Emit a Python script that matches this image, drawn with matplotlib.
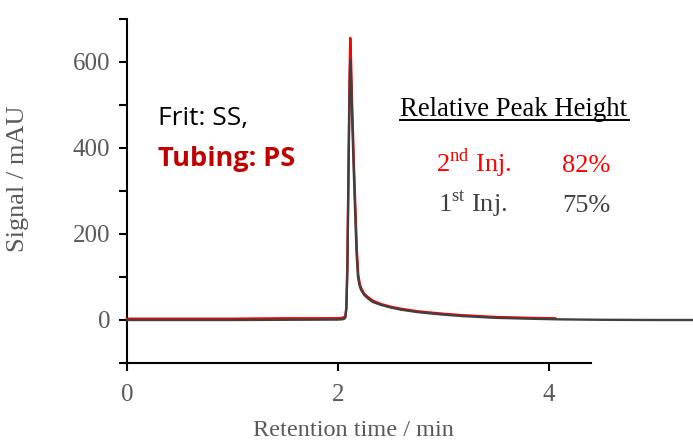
import numpy as np
import matplotlib
matplotlib.use("Agg")
import matplotlib.pyplot as plt
from matplotlib.lines import Line2D

plt.rcParams['mathtext.fontset'] = 'custom'
plt.rcParams['mathtext.rm'] = 'Liberation Serif'

# 1st injection (dark grey trace)
t_first = [0, 0.5, 1.0, 1.5, 2.0, 2.04, 2.06, 2.07, 2.08, 2.09, 2.10, 2.11, 2.117,
           2.125, 2.135, 2.15, 2.16, 2.177, 2.19, 2.205, 2.22, 2.25, 2.286, 2.33,
           2.41, 2.5, 2.6, 2.75, 2.87, 3.0, 3.19, 3.5, 3.82, 4.1, 4.5, 5.0, 5.37]
sig_first = [0, 0, 0, 0.5, 1, 1.5, 3, 5, 25, 120, 330, 520, 605,
             560, 470, 350, 275, 155, 101, 80, 70, 58, 50, 42,
             35, 29, 24, 18.5, 15.5, 12.5, 9, 5, 3, 1.5, 0.5, 0, 0]

# 2nd injection (red trace)
t_second = [0, 0.5, 1.0, 1.5, 2.0, 2.04, 2.06, 2.07, 2.08, 2.09, 2.10, 2.11, 2.117,
            2.125, 2.135, 2.15, 2.163, 2.18, 2.193, 2.208, 2.223, 2.25, 2.286, 2.33,
            2.41, 2.5, 2.6, 2.75, 2.87, 3.0, 3.19, 3.5, 3.82, 4.06]
sig_second = [3, 3, 3, 4, 4, 5, 7, 9, 30, 130, 350, 560, 656,
              600, 500, 375, 280, 160, 105, 84, 73, 61, 53, 45,
              37, 31, 26, 20.5, 17.5, 14.5, 11, 7, 5, 4]

x_ticks = [0, 2, 4]
y_ticks = [0, 200, 400, 600]
y_minor = [-100, 100, 300, 500, 700]

W, H = 693, 441
fig = plt.figure(figsize=(W / 100, H / 100), dpi=100)
ax = fig.add_axes([127 / W, 1 - 363 / H, (591 - 127) / W, (363 - 19) / H])

ax.plot(t_second, sig_second, color='#ff0000', lw=1.7, clip_on=False, zorder=3)
ax.plot(t_first, sig_first, color='#404040', lw=1.7, clip_on=False, zorder=4)

ax.set_xlim(0, 4.4)
ax.set_ylim(-100, 700)
ax.set_xticks(x_ticks)
ax.set_yticks(y_ticks)
ax.set_yticks(y_minor, minor=True)
for s in ['top', 'right']:
    ax.spines[s].set_visible(False)
for s in ['left', 'bottom']:
    ax.spines[s].set_linewidth(1.5)
ax.tick_params(which='both', direction='out', length=6, width=1.5, color='black')
ax.tick_params(axis='y', labelsize=18, labelcolor='#595959', pad=6)
ax.tick_params(axis='x', labelsize=18, labelcolor='#595959', pad=9)
for lab in ax.get_xticklabels() + ax.get_yticklabels():
    lab.set_fontfamily('Liberation Serif')

ax.set_xlabel('Retention time / min', fontsize=17.5, color='#595959',
              family='Liberation Serif', va='center')
ax.set_ylabel('Signal / mAU', fontsize=19, color='#595959',
              family='Liberation Serif', va='center')
ax.xaxis.set_label_coords(0.488, -0.195)
ax.yaxis.set_label_coords(-0.235, 0.535)

def px(x, y):
    return x / W, 1 - y / H

fig.text(*px(158, 125), 'Frit: SS,', fontsize=19, family='Open Sans', color='black')
fig.text(*px(158, 166), 'Tubing: PS', fontsize=19.5, family='Open Sans',
         weight='bold', color='#c00000')

fig.text(*px(400, 116), 'Relative Peak Height', fontsize=19.3,
         family='Liberation Serif', color='black')
fig.add_artist(Line2D([400 / W, 629 / W], [1 - 120 / H, 1 - 120 / H],
                      color='black', lw=1.4))
fig.text(*px(436, 172), r'2$^{\mathrm{nd}}$ Inj.', fontsize=19,
         family='Liberation Serif', color='#ff0000')
fig.text(*px(562, 172), '82%', fontsize=19, family='Liberation Serif', color='#ff0000')
fig.text(*px(438, 212), r'1$^{\mathrm{st}}$ Inj.', fontsize=19,
         family='Liberation Serif', color='#404040')
fig.text(*px(562, 212), '75%', fontsize=19, family='Liberation Serif', color='#404040')

fig.savefig('out.png', dpi=100)
